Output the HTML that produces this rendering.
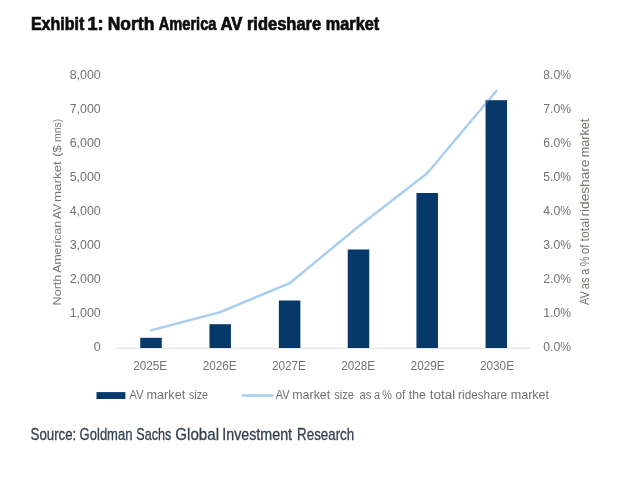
<!DOCTYPE html>
<html lang="en">
<head>
<meta charset="utf-8">
<title>Exhibit 1: North America AV rideshare market</title>
<style>
html,body{margin:0;padding:0;background:#fff;}
body{width:620px;height:479px;overflow:hidden;position:relative;font-family:"Liberation Sans",sans-serif;}
svg{position:absolute;left:0;top:0;display:block;filter:blur(0.45px);}
text{font-family:"Liberation Sans",sans-serif;}
.ax{font-size:12px;fill:#727272;}
.ttl{font-size:11.5px;fill:#7b756f;}
</style>
</head>
<body>
<svg width="620" height="479" viewBox="0 0 620 479">
<rect x="0" y="0" width="620" height="479" fill="#ffffff"/>
<!-- heading -->
<text y="30.3" font-size="17.7" fill="#0d0d0d" font-weight="bold" stroke="#0d0d0d" stroke-width="0.7"><tspan x="30.96" textLength="53.27" lengthAdjust="spacingAndGlyphs">Exhibit</tspan> <tspan x="87.53" textLength="16.05" lengthAdjust="spacingAndGlyphs">1:</tspan> <tspan x="107.76" textLength="46.58" lengthAdjust="spacingAndGlyphs">North</tspan> <tspan x="158.82" textLength="57.60" lengthAdjust="spacingAndGlyphs">America</tspan> <tspan x="220.47" textLength="21.98" lengthAdjust="spacingAndGlyphs">AV</tspan> <tspan x="246.93" textLength="74.23" lengthAdjust="spacingAndGlyphs">rideshare</tspan> <tspan x="325.84" textLength="53.29" lengthAdjust="spacingAndGlyphs">market</tspan></text>
<!-- left axis labels -->
<g class="ax" text-anchor="end" style="font-size:12.4px"><text x="100.7" y="78.9">8,000</text><text x="100.7" y="112.9">7,000</text><text x="100.7" y="146.9">6,000</text><text x="100.7" y="181.0">5,000</text><text x="100.7" y="215.0">4,000</text><text x="100.7" y="249.0">3,000</text><text x="100.7" y="283.0">2,000</text><text x="100.7" y="317.1">1,000</text><text x="100.7" y="351.1">0</text></g>
<!-- right axis labels -->
<g class="ax" text-anchor="start"><text x="543.3" y="78.9" textLength="27.8" lengthAdjust="spacingAndGlyphs">8.0%</text><text x="543.3" y="112.9" textLength="27.8" lengthAdjust="spacingAndGlyphs">7.0%</text><text x="543.3" y="146.9" textLength="27.8" lengthAdjust="spacingAndGlyphs">6.0%</text><text x="543.3" y="181.0" textLength="27.8" lengthAdjust="spacingAndGlyphs">5.0%</text><text x="543.3" y="215.0" textLength="27.8" lengthAdjust="spacingAndGlyphs">4.0%</text><text x="543.3" y="249.0" textLength="27.8" lengthAdjust="spacingAndGlyphs">3.0%</text><text x="543.3" y="283.0" textLength="27.8" lengthAdjust="spacingAndGlyphs">2.0%</text><text x="543.3" y="317.1" textLength="27.8" lengthAdjust="spacingAndGlyphs">1.0%</text><text x="543.3" y="351.1" textLength="27.8" lengthAdjust="spacingAndGlyphs">0.0%</text></g>
<!-- axis titles -->
<g transform="translate(60.9,304.9) rotate(-90)"><text y="0" font-size="11.4" fill="#7b756f" ><tspan x="-0.49" textLength="30.71" lengthAdjust="spacingAndGlyphs">North</tspan> <tspan x="32.10" textLength="51.90" lengthAdjust="spacingAndGlyphs">American</tspan> <tspan x="86.00" textLength="15.00" lengthAdjust="spacingAndGlyphs">AV</tspan> <tspan x="102.88" textLength="40.80" lengthAdjust="spacingAndGlyphs">market</tspan> <tspan x="148.21" textLength="11.35" lengthAdjust="spacingAndGlyphs">($</tspan> <tspan x="162.96" textLength="23.18" lengthAdjust="spacingAndGlyphs">mns)</tspan></text></g>
<g transform="translate(589.1,304.9) rotate(-90)"><text y="0" font-size="12.2" fill="#7b756f" ><tspan x="-0.05" textLength="13.83" lengthAdjust="spacingAndGlyphs">AV</tspan> <tspan x="15.71" textLength="11.60" lengthAdjust="spacingAndGlyphs">as</tspan> <tspan x="30.11" textLength="6.11" lengthAdjust="spacingAndGlyphs">a</tspan> <tspan x="38.74" textLength="9.76" lengthAdjust="spacingAndGlyphs">%</tspan> <tspan x="51.00" textLength="9.16" lengthAdjust="spacingAndGlyphs">of</tspan> <tspan x="63.40" textLength="23.42" lengthAdjust="spacingAndGlyphs">total</tspan> <tspan x="88.40" textLength="56.94" lengthAdjust="spacingAndGlyphs">rideshare</tspan> <tspan x="147.78" textLength="38.42" lengthAdjust="spacingAndGlyphs">market</tspan></text></g>
<!-- baseline -->
<line x1="116" y1="348.2" x2="531" y2="348.2" stroke="#dcdcdc" stroke-width="1.1"/>
<!-- series line -->
<polyline points="151.0,330.4 220.2,312.2 289.6,283.2 358.5,226.5 427.2,173.3 496.3,91.0" fill="none" stroke="#a9cff0" stroke-width="2.4" stroke-linejoin="round" stroke-linecap="round"/>
<!-- bars -->
<g fill="#06386a"><rect x="140.25" y="337.8" width="21.5" height="10.2"/><rect x="209.45" y="324.2" width="21.5" height="23.8"/><rect x="278.85" y="300.5" width="21.5" height="47.5"/><rect x="347.75" y="249.5" width="21.5" height="98.5"/><rect x="416.45" y="193.0" width="21.5" height="155.0"/><rect x="485.55" y="100.2" width="21.5" height="247.8"/></g>
<polyline points="151.0,330.4 220.2,312.2 289.6,283.2 358.5,226.5 427.2,173.3 496.3,91.0" fill="none" stroke="#a9cff0" stroke-width="2.4" stroke-linejoin="round" stroke-linecap="round" opacity="0.2"/>
<!-- x labels -->
<g class="ax" text-anchor="middle"><text x="150.2" y="369.5" style="font-size:12.5px" textLength="34" lengthAdjust="spacingAndGlyphs">2025E</text><text x="219.7" y="369.5" style="font-size:12.5px" textLength="34" lengthAdjust="spacingAndGlyphs">2026E</text><text x="288.9" y="369.5" style="font-size:12.5px" textLength="34" lengthAdjust="spacingAndGlyphs">2027E</text><text x="358.2" y="369.5" style="font-size:12.5px" textLength="34" lengthAdjust="spacingAndGlyphs">2028E</text><text x="427.6" y="369.5" style="font-size:12.5px" textLength="34" lengthAdjust="spacingAndGlyphs">2029E</text><text x="497.0" y="369.5" style="font-size:12.5px" textLength="34" lengthAdjust="spacingAndGlyphs">2030E</text></g>
<!-- legend -->
<rect x="96.5" y="392.1" width="28.9" height="6.9" fill="#06386a"/>
<text y="399.4" font-size="12" fill="#727272" ><tspan x="129.20" textLength="14.50" lengthAdjust="spacingAndGlyphs">AV</tspan> <tspan x="146.46" textLength="38.78" lengthAdjust="spacingAndGlyphs">market</tspan> <tspan x="189.03" textLength="18.99" lengthAdjust="spacingAndGlyphs">size</tspan></text>
<line x1="241.4" y1="395.5" x2="273.5" y2="395.5" stroke="#a9cff0" stroke-width="2.4"/>
<text y="399.4" font-size="12" fill="#727272" ><tspan x="275.70" textLength="13.90" lengthAdjust="spacingAndGlyphs">AV</tspan> <tspan x="292.28" textLength="37.96" lengthAdjust="spacingAndGlyphs">market</tspan> <tspan x="334.32" textLength="19.61" lengthAdjust="spacingAndGlyphs">size</tspan> <tspan x="359.43" textLength="11.84" lengthAdjust="spacingAndGlyphs">as</tspan> <tspan x="373.91" textLength="6.01" lengthAdjust="spacingAndGlyphs">a</tspan> <tspan x="382.29" textLength="9.60" lengthAdjust="spacingAndGlyphs">%</tspan> <tspan x="395.51" textLength="9.83" lengthAdjust="spacingAndGlyphs">of</tspan> <tspan x="408.80" textLength="17.09" lengthAdjust="spacingAndGlyphs">the</tspan> <tspan x="429.69" textLength="25.68" lengthAdjust="spacingAndGlyphs">total</tspan> <tspan x="458.11" textLength="49.05" lengthAdjust="spacingAndGlyphs">rideshare</tspan> <tspan x="510.67" textLength="38.47" lengthAdjust="spacingAndGlyphs">market</tspan></text>
<!-- source -->
<text y="439.8" font-size="16.4" fill="#34414e" stroke="#34414e" stroke-width="0.3"><tspan x="30.58" textLength="45.64" lengthAdjust="spacingAndGlyphs">Source:</tspan> <tspan x="79.61" textLength="52.85" lengthAdjust="spacingAndGlyphs">Goldman</tspan> <tspan x="136.31" textLength="34.92" lengthAdjust="spacingAndGlyphs">Sachs</tspan> <tspan x="175.31" textLength="43.70" lengthAdjust="spacingAndGlyphs">Global</tspan> <tspan x="222.24" textLength="69.86" lengthAdjust="spacingAndGlyphs">Investment</tspan> <tspan x="297.09" textLength="57.09" lengthAdjust="spacingAndGlyphs">Research</tspan></text>
</svg>
</body>
</html>
